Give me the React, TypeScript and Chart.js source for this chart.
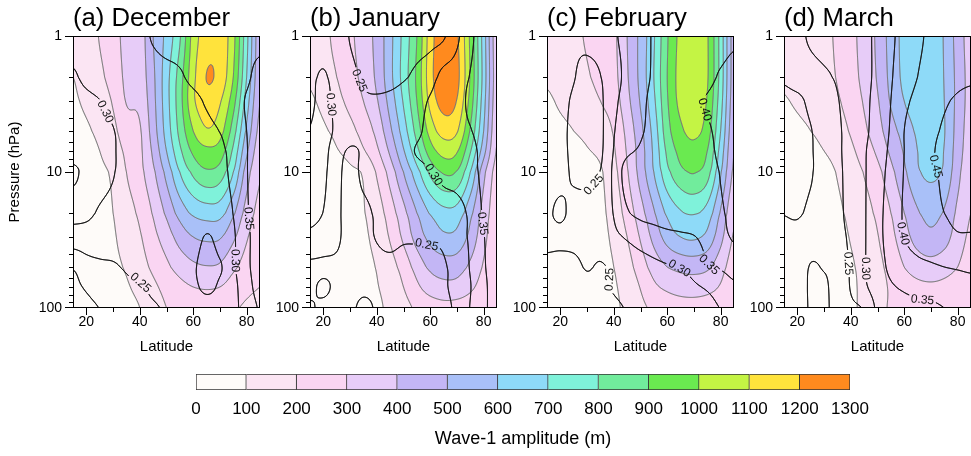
import React, { useEffect, useRef } from "react";
import { Chart, registerables } from "chart.js";

Chart.register(...registerables);

const FONT = "'Liberation Sans', Arial, Helvetica, sans-serif";
Chart.defaults.font.family = FONT;

// Grid of the fields: latitude (deg N) and pressure (hPa)
const LATS = [15, 20, 25, 30, 35, 40, 45, 50, 55, 60, 65, 70, 75, 80, 85];
const LEVELS = [1, 2, 3, 5, 7, 10, 20, 30, 50, 70, 100];

const X_TICKS = [20, 40, 60, 80];
const X_MINOR = [30, 50, 70];
const Y_TICKS = [1, 10, 100];
const Y_MINOR = [2, 3, 4, 5, 6, 7, 8, 9, 20, 30, 40, 50, 60, 70, 80, 90];

// Shading intervals for the wave-1 amplitude (m)
const BAND_EDGES = [0, 100, 200, 300, 400, 500, 600, 700, 800, 900, 1000, 1100, 1200, 1300];
const BAND_COLORS = [
  "#FEFBF9", "#FBE5F3", "#FAD5F2", "#E7CCF8", "#C3B6F5", "#A9C0F8", "#8EDAF8",
  "#7FF2DA", "#71EC9C", "#6AEA50", "#C4F444", "#FFE33C", "#FF8A1E",
];

// Line contour levels of the overlaid ratio field
const RATIO_LEVELS = [0.2, 0.25, 0.3, 0.35, 0.4, 0.45, 0.5];

const PANEL_TITLES = ["(a) December", "(b) January", "(c) February", "(d) March"];

// Wave-1 amplitude, rows = LEVELS (1 -> 100 hPa), columns = LATS
const AMP_DEC = [
  [120, 160, 205, 260, 330, 350, 500, 630, 790, 1040, 1150, 1160, 1030, 730, 430],
  [100, 135, 180, 240, 320, 345, 480, 660, 850, 1070, 1202, 1165, 1000, 700, 420],
  [90, 115, 150, 210, 305, 325, 470, 660, 860, 1080, 1160, 1110, 940, 650, 400],
  [75, 90, 120, 175, 255, 290, 450, 640, 830, 1000, 1090, 1040, 850, 580, 370],
  [70, 80, 100, 150, 220, 280, 420, 600, 780, 920, 975, 950, 780, 520, 340],
  [60, 70, 85, 115, 200, 270, 380, 530, 700, 820, 880, 850, 700, 450, 310],
  [55, 60, 75, 100, 160, 220, 310, 420, 540, 620, 650, 640, 520, 360, 270],
  [55, 60, 70, 90, 140, 190, 270, 350, 440, 500, 520, 510, 420, 310, 250],
  [50, 55, 60, 80, 110, 160, 220, 280, 340, 380, 395, 385, 320, 260, 220],
  [50, 50, 55, 70, 90, 130, 180, 230, 270, 300, 310, 300, 260, 220, 200],
  [45, 50, 50, 60, 70, 100, 150, 200, 210, 230, 240, 235, 210, 190, 180],
];

const AMP_JAN = [
  [130, 170, 230, 280, 350, 430, 570, 730, 900, 1150, 1270, 1215, 980, 650, 330],
  [110, 150, 200, 260, 330, 420, 570, 740, 920, 1160, 1280, 1230, 990, 660, 340],
  [90, 120, 170, 230, 300, 390, 540, 710, 900, 1130, 1240, 1195, 960, 640, 330],
  [70, 90, 120, 170, 240, 330, 480, 650, 840, 1040, 1140, 1110, 890, 600, 310],
  [60, 75, 95, 130, 190, 280, 420, 590, 770, 950, 1035, 1010, 810, 540, 290],
  [55, 60, 65, 85, 110, 210, 340, 500, 660, 820, 910, 890, 700, 430, 260],
  [50, 55, 60, 70, 95, 150, 250, 370, 500, 610, 670, 660, 530, 360, 240],
  [50, 50, 55, 65, 85, 130, 210, 320, 440, 530, 580, 570, 470, 330, 230],
  [45, 45, 50, 60, 75, 105, 160, 240, 340, 420, 450, 445, 380, 290, 220],
  [40, 45, 50, 55, 70, 95, 135, 200, 280, 345, 370, 365, 320, 260, 210],
  [40, 40, 45, 50, 65, 85, 120, 170, 215, 250, 270, 265, 250, 225, 200],
];

const AMP_FEB = [
  [130, 150, 180, 210, 250, 280, 400, 530, 690, 890, 1030, 1080, 1010, 760, 450],
  [110, 130, 160, 190, 230, 270, 390, 530, 700, 900, 1040, 1085, 1010, 760, 450],
  [90, 110, 130, 160, 200, 250, 370, 510, 680, 890, 1030, 1070, 990, 740, 440],
  [70, 85, 100, 120, 150, 210, 330, 470, 640, 860, 980, 1025, 950, 700, 420],
  [65, 70, 80, 95, 120, 190, 310, 450, 620, 820, 930, 965, 900, 660, 400],
  [60, 60, 65, 75, 90, 170, 290, 440, 600, 770, 870, 905, 840, 610, 380],
  [55, 55, 60, 65, 80, 140, 240, 360, 490, 620, 690, 709, 660, 490, 320],
  [50, 55, 55, 60, 75, 120, 200, 310, 430, 540, 600, 615, 570, 430, 290],
  [45, 50, 50, 55, 70, 100, 160, 250, 340, 400, 430, 440, 420, 340, 250],
  [45, 45, 50, 55, 65, 90, 135, 205, 280, 320, 345, 350, 335, 290, 220],
  [40, 40, 45, 50, 60, 85, 120, 180, 215, 240, 255, 260, 250, 230, 200],
];

const AMP_MAR = [
  [120, 140, 170, 190, 210, 270, 340, 420, 540, 630, 680, 690, 590, 460, 350],
  [110, 130, 150, 180, 205, 260, 330, 410, 530, 625, 680, 690, 595, 470, 360],
  [95, 110, 130, 160, 190, 240, 310, 390, 510, 600, 670, 685, 600, 470, 360],
  [75, 85, 100, 125, 160, 210, 280, 360, 460, 540, 620, 670, 605, 460, 350],
  [65, 70, 80, 100, 130, 180, 245, 320, 420, 510, 600, 655, 595, 450, 340],
  [60, 60, 65, 75, 105, 150, 205, 270, 370, 480, 585, 620, 580, 430, 320],
  [55, 55, 60, 65, 85, 120, 165, 220, 300, 400, 490, 530, 490, 380, 300],
  [50, 50, 55, 60, 75, 105, 145, 195, 270, 360, 440, 475, 440, 350, 280],
  [45, 45, 50, 55, 65, 90, 125, 175, 230, 300, 345, 361, 340, 300, 250],
  [45, 45, 45, 50, 60, 85, 120, 170, 210, 250, 275, 283, 275, 255, 225],
  [40, 40, 45, 45, 55, 85, 120, 180, 205, 215, 225, 230, 225, 220, 200],
];

// Ratio field drawn as black contours, same grid
const RATIO_DEC = [
  [0.28, 0.28, 0.28, 0.28, 0.28, 0.285, 0.305, 0.32, 0.32, 0.32, 0.32, 0.32, 0.32, 0.33, 0.33],
  [0.305, 0.29, 0.28, 0.28, 0.28, 0.28, 0.28, 0.285, 0.295, 0.31, 0.32, 0.32, 0.32, 0.34, 0.37],
  [0.315, 0.31, 0.301, 0.285, 0.28, 0.28, 0.28, 0.28, 0.285, 0.29, 0.305, 0.32, 0.32, 0.355, 0.37],
  [0.32, 0.32, 0.315, 0.302, 0.28, 0.27, 0.27, 0.275, 0.28, 0.285, 0.29, 0.301, 0.315, 0.35, 0.37],
  [0.32, 0.32, 0.32, 0.305, 0.28, 0.27, 0.27, 0.27, 0.275, 0.28, 0.285, 0.295, 0.31, 0.348, 0.37],
  [0.36, 0.335, 0.32, 0.303, 0.28, 0.27, 0.265, 0.265, 0.27, 0.275, 0.28, 0.29, 0.31, 0.348, 0.37],
  [0.315, 0.31, 0.295, 0.285, 0.275, 0.27, 0.265, 0.265, 0.265, 0.27, 0.275, 0.285, 0.301, 0.345, 0.37],
  [0.28, 0.28, 0.28, 0.275, 0.27, 0.265, 0.26, 0.26, 0.265, 0.28, 0.303, 0.29, 0.295, 0.34, 0.37],
  [0.205, 0.23, 0.24, 0.245, 0.255, 0.265, 0.27, 0.275, 0.285, 0.295, 0.315, 0.302, 0.295, 0.34, 0.37],
  [0.19, 0.205, 0.22, 0.23, 0.24, 0.245, 0.26, 0.27, 0.28, 0.29, 0.31, 0.295, 0.29, 0.33, 0.37],
  [0.18, 0.19, 0.201, 0.215, 0.225, 0.235, 0.245, 0.255, 0.265, 0.275, 0.28, 0.285, 0.29, 0.32, 0.355],
];

const RATIO_JAN = [
  [0.27, 0.275, 0.27, 0.248, 0.235, 0.23, 0.225, 0.225, 0.23, 0.235, 0.245, 0.29, 0.34, 0.37, 0.38],
  [0.29, 0.305, 0.28, 0.26, 0.245, 0.235, 0.235, 0.245, 0.26, 0.28, 0.315, 0.325, 0.352, 0.37, 0.38],
  [0.29, 0.315, 0.285, 0.265, 0.255, 0.255, 0.26, 0.27, 0.28, 0.305, 0.32, 0.33, 0.36, 0.37, 0.38],
  [0.302, 0.32, 0.29, 0.27, 0.26, 0.26, 0.265, 0.275, 0.29, 0.315, 0.325, 0.335, 0.348, 0.365, 0.375],
  [0.31, 0.315, 0.27, 0.245, 0.255, 0.265, 0.27, 0.285, 0.303, 0.315, 0.325, 0.33, 0.34, 0.36, 0.375],
  [0.32, 0.31, 0.265, 0.235, 0.26, 0.27, 0.275, 0.28, 0.285, 0.298, 0.31, 0.32, 0.335, 0.36, 0.375],
  [0.31, 0.299, 0.262, 0.23, 0.24, 0.255, 0.26, 0.265, 0.27, 0.275, 0.28, 0.285, 0.31, 0.355, 0.37],
  [0.29, 0.28, 0.26, 0.23, 0.24, 0.252, 0.26, 0.255, 0.255, 0.255, 0.26, 0.29, 0.305, 0.348, 0.37],
  [0.24, 0.24, 0.24, 0.23, 0.235, 0.24, 0.24, 0.235, 0.235, 0.24, 0.245, 0.27, 0.303, 0.345, 0.37],
  [0.24, 0.258, 0.24, 0.235, 0.24, 0.24, 0.235, 0.235, 0.235, 0.24, 0.245, 0.265, 0.298, 0.34, 0.37],
  [0.255, 0.24, 0.235, 0.24, 0.26, 0.245, 0.235, 0.23, 0.23, 0.235, 0.24, 0.26, 0.302, 0.34, 0.37],
];

const RATIO_FEB = [
  [0.27, 0.26, 0.255, 0.26, 0.27, 0.295, 0.31, 0.33, 0.355, 0.37, 0.38, 0.385, 0.39, 0.38, 0.39],
  [0.27, 0.265, 0.252, 0.238, 0.249, 0.285, 0.31, 0.335, 0.355, 0.37, 0.38, 0.385, 0.39, 0.405, 0.42],
  [0.265, 0.26, 0.245, 0.232, 0.242, 0.29, 0.315, 0.34, 0.36, 0.37, 0.38, 0.39, 0.403, 0.415, 0.425],
  [0.265, 0.258, 0.242, 0.23, 0.24, 0.297, 0.32, 0.345, 0.36, 0.37, 0.375, 0.385, 0.395, 0.41, 0.42],
  [0.265, 0.258, 0.243, 0.232, 0.242, 0.302, 0.34, 0.355, 0.365, 0.37, 0.375, 0.38, 0.39, 0.408, 0.42],
  [0.265, 0.26, 0.245, 0.238, 0.252, 0.31, 0.37, 0.37, 0.37, 0.37, 0.37, 0.375, 0.385, 0.402, 0.42],
  [0.255, 0.245, 0.26, 0.268, 0.28, 0.302, 0.345, 0.36, 0.365, 0.37, 0.37, 0.375, 0.38, 0.395, 0.41],
  [0.26, 0.258, 0.262, 0.268, 0.275, 0.29, 0.305, 0.32, 0.33, 0.338, 0.343, 0.348, 0.365, 0.385, 0.405],
  [0.24, 0.238, 0.24, 0.253, 0.246, 0.258, 0.27, 0.28, 0.29, 0.297, 0.302, 0.315, 0.345, 0.355, 0.37],
  [0.235, 0.235, 0.238, 0.24, 0.244, 0.253, 0.262, 0.27, 0.278, 0.284, 0.289, 0.295, 0.305, 0.32, 0.34],
  [0.232, 0.233, 0.235, 0.238, 0.24, 0.245, 0.252, 0.26, 0.267, 0.273, 0.278, 0.283, 0.29, 0.301, 0.31],
];

const RATIO_MAR = [
  [0.22, 0.24, 0.255, 0.265, 0.27, 0.28, 0.29, 0.31, 0.34, 0.37, 0.39, 0.41, 0.42, 0.43, 0.44],
  [0.245, 0.24, 0.24, 0.245, 0.255, 0.275, 0.29, 0.31, 0.345, 0.38, 0.4, 0.42, 0.43, 0.44, 0.445],
  [0.256, 0.255, 0.245, 0.24, 0.248, 0.27, 0.29, 0.315, 0.35, 0.39, 0.41, 0.43, 0.445, 0.455, 0.46],
  [0.258, 0.258, 0.251, 0.24, 0.245, 0.265, 0.29, 0.32, 0.355, 0.4, 0.42, 0.44, 0.455, 0.465, 0.47],
  [0.258, 0.258, 0.252, 0.24, 0.245, 0.265, 0.295, 0.325, 0.36, 0.4, 0.425, 0.445, 0.46, 0.47, 0.47],
  [0.257, 0.258, 0.252, 0.24, 0.245, 0.262, 0.295, 0.33, 0.365, 0.402, 0.43, 0.445, 0.455, 0.47, 0.47],
  [0.251, 0.253, 0.245, 0.24, 0.245, 0.26, 0.295, 0.335, 0.37, 0.405, 0.425, 0.44, 0.45, 0.46, 0.465],
  [0.24, 0.24, 0.235, 0.24, 0.245, 0.256, 0.295, 0.335, 0.37, 0.4, 0.415, 0.425, 0.435, 0.445, 0.445],
  [0.225, 0.23, 0.252, 0.248, 0.245, 0.253, 0.295, 0.33, 0.36, 0.38, 0.39, 0.395, 0.4, 0.405, 0.41],
  [0.22, 0.225, 0.256, 0.255, 0.24, 0.252, 0.29, 0.325, 0.345, 0.355, 0.36, 0.365, 0.37, 0.375, 0.38],
  [0.215, 0.22, 0.256, 0.256, 0.24, 0.245, 0.255, 0.31, 0.33, 0.34, 0.345, 0.345, 0.35, 0.355, 0.36],
];

// Where the contour labels sit (value, latitude, pressure)
const LABELS_DEC = [
  { value: 0.3, lat: 26, p: 3.7 },
  { value: 0.25, lat: 40.5, p: 65 },
  { value: 0.35, lat: 80.5, p: 22 },
  { value: 0.3, lat: 76.2, p: 45 },
];
const LABELS_JAN = [
  { value: 0.25, lat: 37, p: 2.0 },
  { value: 0.3, lat: 23.5, p: 3.2 },
  { value: 0.3, lat: 61.5, p: 10.5 },
  { value: 0.25, lat: 59, p: 31 },
  { value: 0.35, lat: 79.5, p: 24 },
];
const LABELS_FEB = [
  { value: 0.4, lat: 76, p: 3.4 },
  { value: 0.25, lat: 30, p: 11 },
  { value: 0.3, lat: 64.7, p: 51 },
  { value: 0.35, lat: 76.7, p: 46 },
  { value: 0.25, lat: 40.3, p: 62 },
];
const LABELS_MAR = [
  { value: 0.45, lat: 74.6, p: 8.8 },
  { value: 0.4, lat: 61.5, p: 28 },
  { value: 0.35, lat: 67, p: 86 },
  { value: 0.3, lat: 47.7, p: 51 },
  { value: 0.25, lat: 40.9, p: 47 },
];

const PANELS = [
  { title: PANEL_TITLES[0], amp: AMP_DEC, ratio: RATIO_DEC, labels: LABELS_DEC },
  { title: PANEL_TITLES[1], amp: AMP_JAN, ratio: RATIO_JAN, labels: LABELS_JAN },
  { title: PANEL_TITLES[2], amp: AMP_FEB, ratio: RATIO_FEB, labels: LABELS_FEB },
  { title: PANEL_TITLES[3], amp: AMP_MAR, ratio: RATIO_MAR, labels: LABELS_MAR },
];

// Layout of the four panels and the colour bar
const PANEL_W = 262;
const PANEL_H = 360;
const PANEL_LEFTS = [0, 237, 474, 711];
const Y_AXIS_W = 73;
const X_AXIS_H = 52;

// ---------- interpolation helpers ----------
function fracIndex(arr: number[], v: number) {
  const n = arr.length;
  if (v <= arr[0]) return 0;
  if (v >= arr[n - 1]) return n - 1;
  let k = 0;
  while (k < n - 2 && v > arr[k + 1]) k++;
  return k + (v - arr[k]) / (arr[k + 1] - arr[k]);
}

function catmull(p0: number, p1: number, p2: number, p3: number, t: number) {
  return 0.5 * (2 * p1 + (-p0 + p2) * t + (2 * p0 - 5 * p1 + 4 * p2 - p3) * t * t + (-p0 + 3 * p1 - 3 * p2 + p3) * t * t * t);
}

function fieldOn(grid: number[][], fi: Float64Array, fj: Float64Array) {
  const w = fi.length, h = fj.length;
  const nI = LATS.length, nJ = LEVELS.length;
  const out = new Float32Array(w * h);
  const col = new Float64Array(nI);
  for (let r = 0; r < h; r++) {
    const j = Math.min(Math.floor(fj[r]), nJ - 2);
    const t = fj[r] - j;
    const j0 = Math.max(j - 1, 0), j3 = Math.min(j + 2, nJ - 1);
    for (let i = 0; i < nI; i++) col[i] = catmull(grid[j0][i], grid[j][i], grid[j + 1][i], grid[j3][i], t);
    for (let c = 0; c < w; c++) {
      const i = Math.min(Math.floor(fi[c]), nI - 2);
      const s = fi[c] - i;
      out[r * w + c] = catmull(col[Math.max(i - 1, 0)], col[i], col[i + 1], col[Math.min(i + 2, nI - 1)], s);
    }
  }
  return out;
}

// marching squares; returns flat list of segments in local pixel coordinates
function march(F: Float32Array, w: number, h: number, lv: number) {
  const out: number[] = [];
  for (let r = 0; r < h - 1; r++) {
    for (let c = 0; c < w - 1; c++) {
      const a = F[r * w + c], b = F[r * w + c + 1];
      const d = F[(r + 1) * w + c], e = F[(r + 1) * w + c + 1];
      let idx = 0;
      if (a > lv) idx |= 8;
      if (b > lv) idx |= 4;
      if (e > lv) idx |= 2;
      if (d > lv) idx |= 1;
      if (idx === 0 || idx === 15) continue;
      const x = c + 0.5, y = r + 0.5;
      const P = (edge: number) => {
        if (edge === 0) out.push(x + (lv - a) / (b - a), y);
        else if (edge === 1) out.push(x + 1, y + (lv - b) / (e - b));
        else if (edge === 2) out.push(x + (lv - d) / (e - d), y + 1);
        else out.push(x, y + (lv - a) / (d - a));
      };
      const seg = (p: number, q: number) => { P(p); P(q); };
      const center = (a + b + d + e) / 4;
      switch (idx) {
        case 1: case 14: seg(3, 2); break;
        case 2: case 13: seg(2, 1); break;
        case 3: case 12: seg(3, 1); break;
        case 4: case 11: seg(0, 1); break;
        case 6: case 9: seg(0, 2); break;
        case 7: case 8: seg(3, 0); break;
        case 5:
          if (center > lv) { seg(3, 0); seg(2, 1); } else { seg(0, 1); seg(3, 2); }
          break;
        case 10:
          if (center > lv) { seg(0, 1); seg(3, 2); } else { seg(3, 0); seg(2, 1); }
          break;
      }
    }
  }
  return out;
}

function hexToRgb(hex: string) {
  const n = parseInt(hex.slice(1), 16);
  return [(n >> 16) & 255, (n >> 8) & 255, n & 255];
}

function strokeSegments(ctx: CanvasRenderingContext2D, segs: number[], x0: number, y0: number) {
  ctx.beginPath();
  for (let k = 0; k < segs.length; k += 4) {
    ctx.moveTo(x0 + segs[k], y0 + segs[k + 1]);
    ctx.lineTo(x0 + segs[k + 2], y0 + segs[k + 3]);
  }
  ctx.stroke();
}

function contourPlugin(amp: number[][], ratio: number[][], labels: { value: number; lat: number; p: number }[]) {
  return {
    id: "contourField",
    beforeDatasetsDraw(chart: any) {
      const { ctx, chartArea: ca, scales } = chart;
      const xs = scales.x, ys = scales.y;
      const x0 = Math.round(ca.left), y0 = Math.round(ca.top);
      const w = Math.round(ca.right) - x0, h = Math.round(ca.bottom) - y0;
      const logL = LEVELS.map((v) => Math.log10(v));
      const fi = new Float64Array(w), fj = new Float64Array(h);
      for (let c = 0; c < w; c++) fi[c] = fracIndex(LATS, xs.getValueForPixel(x0 + c + 0.5));
      for (let r = 0; r < h; r++) fj[r] = fracIndex(logL, Math.log10(ys.getValueForPixel(y0 + r + 0.5)));
      const A = fieldOn(amp, fi, fj);
      const R = fieldOn(ratio, fi, fj);

      // shaded bands
      const off = document.createElement("canvas");
      off.width = w;
      off.height = h;
      const octx = off.getContext("2d")!;
      const img = octx.createImageData(w, h);
      const rgb = BAND_COLORS.map(hexToRgb);
      for (let k = 0; k < w * h; k++) {
        const v = A[k];
        let band = 0;
        while (band < BAND_COLORS.length - 1 && v >= BAND_EDGES[band + 1]) band++;
        const col = rgb[band];
        img.data[k * 4] = col[0];
        img.data[k * 4 + 1] = col[1];
        img.data[k * 4 + 2] = col[2];
        img.data[k * 4 + 3] = 255;
      }
      octx.putImageData(img, 0, 0);

      ctx.save();
      ctx.beginPath();
      ctx.rect(x0, y0, w, h);
      ctx.clip();
      ctx.drawImage(off, x0, y0);

      // grey band outlines
      ctx.lineCap = "round";
      ctx.strokeStyle = "rgba(120,120,120,0.8)";
      ctx.lineWidth = 0.9;
      for (let k = 1; k < BAND_EDGES.length - 1; k++) {
        strokeSegments(ctx, march(A, w, h, BAND_EDGES[k]), x0, y0);
      }

      // ratio contours and their labels
      const ratioSegs = new Map<number, number[]>();
      RATIO_LEVELS.forEach((lv) => ratioSegs.set(lv, march(R, w, h, lv)));
      ctx.font = `12px ${FONT}`;
      const placed: { x: number; y: number; ang: number; text: string; tw: number }[] = [];
      labels.forEach((lb) => {
        const ax = xs.getPixelForValue(lb.lat) - x0;
        const ay = ys.getPixelForValue(lb.p) - y0;
        let key = RATIO_LEVELS[0];
        RATIO_LEVELS.forEach((lv) => { if (Math.abs(lv - lb.value) < Math.abs(key - lb.value)) key = lv; });
        const segs = ratioSegs.get(key) || [];
        let best = -1, bd = 1e9;
        for (let k = 0; k < segs.length; k += 2) {
          const dd = (segs[k] - ax) ** 2 + (segs[k + 1] - ay) ** 2;
          if (dd < bd) { bd = dd; best = k; }
        }
        let px = ax, py = ay;
        if (best >= 0 && bd < 40 * 40) { px = segs[best]; py = segs[best + 1]; }
        const c = Math.max(3, Math.min(w - 4, Math.round(px)));
        const r = Math.max(3, Math.min(h - 4, Math.round(py)));
        const gx = R[r * w + c + 3] - R[r * w + c - 3];
        const gy = R[(r + 3) * w + c] - R[(r - 3) * w + c];
        let ang = Math.atan2(gx, -gy);
        if (ang > Math.PI / 2) ang -= Math.PI;
        if (ang < -Math.PI / 2) ang += Math.PI;
        const text = lb.value.toFixed(2);
        placed.push({ x: x0 + px, y: y0 + py, ang, text, tw: ctx.measureText(text).width });
      });

      ctx.save();
      ctx.beginPath();
      ctx.rect(x0, y0, w, h);
      placed.forEach((pl) => {
        const cs = Math.cos(pl.ang), sn = Math.sin(pl.ang);
        const hw = pl.tw / 2 + 2, hh = 6;
        const pts = [[-hw, -hh], [hw, -hh], [hw, hh], [-hw, hh]].map(([u, v]) => [pl.x + u * cs - v * sn, pl.y + u * sn + v * cs]);
        ctx.moveTo(pts[0][0], pts[0][1]);
        for (let k = 1; k < 4; k++) ctx.lineTo(pts[k][0], pts[k][1]);
        ctx.closePath();
      });
      ctx.clip("evenodd");
      ctx.strokeStyle = "#1a1a1a";
      ctx.lineWidth = 1;
      RATIO_LEVELS.forEach((lv) => strokeSegments(ctx, ratioSegs.get(lv)!, x0, y0));
      ctx.restore();

      ctx.fillStyle = "#111";
      ctx.textAlign = "center";
      ctx.textBaseline = "middle";
      placed.forEach((pl) => {
        ctx.save();
        ctx.translate(pl.x, pl.y);
        ctx.rotate(pl.ang);
        ctx.fillText(pl.text, 0, 0.5);
        ctx.restore();
      });
      ctx.restore();
    },
    afterDraw(chart: any) {
      const { ctx, chartArea: ca, scales } = chart;
      const xs = scales.x, ys = scales.y;
      const x0 = Math.round(ca.left), y0 = Math.round(ca.top);
      const x1 = Math.round(ca.right), y1 = Math.round(ca.bottom);
      ctx.save();
      ctx.strokeStyle = "#000";
      ctx.lineWidth = 1;
      ctx.strokeRect(x0 + 0.5, y0 + 0.5, x1 - x0 - 1, y1 - y0 - 1);
      ctx.beginPath();
      Y_TICKS.forEach((v) => {
        const y = Math.round(ys.getPixelForValue(v)) + (v === 100 ? -0.5 : 0.5);
        ctx.moveTo(x0 - 8, y);
        ctx.lineTo(x0 + 0.5, y);
      });
      Y_MINOR.forEach((v) => {
        const y = Math.round(ys.getPixelForValue(v)) + 0.5;
        ctx.moveTo(x0 - 4, y);
        ctx.lineTo(x0 + 0.5, y);
      });
      X_TICKS.forEach((v) => {
        const x = Math.round(xs.getPixelForValue(v)) + 0.5;
        ctx.moveTo(x, y1 - 0.5);
        ctx.lineTo(x, y1 + 7);
      });
      X_MINOR.forEach((v) => {
        const x = Math.round(xs.getPixelForValue(v)) + 0.5;
        ctx.moveTo(x, y1 - 0.5);
        ctx.lineTo(x, y1 + 4);
      });
      ctx.stroke();
      ctx.restore();
    },
  };
}

function Panel({ index }: { index: number }) {
  const ref = useRef<HTMLCanvasElement>(null);
  useEffect(() => {
    const spec = PANELS[index];
    const chart = new Chart(ref.current!, {
      type: "scatter",
      data: { datasets: [] },
      options: {
        animation: false,
        responsive: false,
        devicePixelRatio: 1,
        events: [],
        layout: { padding: { left: 0, right: PANEL_W - Y_AXIS_W - 187, top: 0, bottom: 0 } },
        plugins: {
          legend: { display: false },
          tooltip: { enabled: false },
          title: {
            display: true,
            text: spec.title,
            align: "start",
            fullSize: false,
            color: "#000",
            font: { family: FONT, size: 25.7, weight: "normal", lineHeight: 1.1 },
            padding: { top: 4.5, bottom: 3.2 },
          },
        },
        scales: {
          x: {
            type: "linear",
            min: 15,
            max: 85,
            grid: { display: false, drawTicks: false },
            border: { display: false },
            ticks: { color: "#000", font: { family: FONT, size: 14 }, padding: 6, autoSkip: false, maxRotation: 0 },
            afterBuildTicks: (s: any) => { s.ticks = X_TICKS.map((v) => ({ value: v })); },
            afterFit: (s: any) => { s.height = X_AXIS_H; },
            title: { display: true, text: "Latitude", color: "#000", font: { family: FONT, size: 15 }, padding: { top: 0, bottom: 4 } },
          },
          y: {
            type: "logarithmic",
            reverse: true,
            min: 1,
            max: 100,
            grid: { display: false, drawTicks: false },
            border: { display: false },
            ticks: { color: "#000", font: { family: FONT, size: 14 }, padding: 11, autoSkip: false, callback: (v: any) => String(v) },
            afterBuildTicks: (s: any) => { s.ticks = Y_TICKS.map((v) => ({ value: v })); },
            afterFit: (s: any) => { s.width = Y_AXIS_W; },
            title: { display: index === 0, text: "Pressure (hPa)", color: "#000", font: { family: FONT, size: 15 }, padding: { top: 6, bottom: 0 } },
          },
        },
      },
      plugins: [contourPlugin(spec.amp, spec.ratio, spec.labels)],
    } as any);
    return () => chart.destroy();
  }, [index]);
  return (
    <canvas
      ref={ref}
      width={PANEL_W}
      height={PANEL_H}
      style={{ position: "absolute", left: PANEL_LEFTS[index], top: 0, width: PANEL_W, height: PANEL_H }}
    />
  );
}

function ColorBar() {
  const ref = useRef<HTMLCanvasElement>(null);
  useEffect(() => {
    const n = BAND_COLORS.length;
    const chart = new Chart(ref.current!, {
      type: "bar",
      data: {
        labels: [""],
        datasets: BAND_COLORS.map((c, k) => ({
          data: [BAND_EDGES[k + 1] - BAND_EDGES[k]],
          backgroundColor: c,
          borderColor: "#333",
          borderWidth: { left: k === 0 ? 1 : 0, right: 1, top: 1, bottom: 1 },
          borderSkipped: false,
          barPercentage: 1,
          categoryPercentage: 1,
        })),
      },
      options: {
        indexAxis: "y",
        animation: false,
        responsive: false,
        devicePixelRatio: 1,
        events: [],
        layout: { padding: { left: 26, right: 30, top: 14, bottom: 0 } },
        plugins: { legend: { display: false }, tooltip: { enabled: false } },
        scales: {
          x: {
            stacked: true,
            min: BAND_EDGES[0],
            max: BAND_EDGES[n],
            grid: { display: false, drawTicks: false },
            border: { display: false },
            afterBuildTicks: (s: any) => { s.ticks = BAND_EDGES.map((v) => ({ value: v })); },
            ticks: { color: "#000", font: { family: FONT, size: 17 }, padding: 9, autoSkip: false, maxRotation: 0, callback: (v: any) => String(v) },
            afterFit: (s: any) => { s.height = 66; },
            title: { display: true, text: "Wave-1 amplitude (m)", color: "#000", font: { family: FONT, size: 18 }, padding: { top: 0, bottom: 6 } },
          },
          y: { stacked: true, display: false },
        },
      },
    } as any);
    return () => chart.destroy();
  }, []);
  return <canvas ref={ref} width={710} height={96} style={{ position: "absolute", left: 170, top: 360, width: 710, height: 96 }} />;
}

export default function App() {
  return (
    <div style={{ position: "absolute", left: 0, top: 0, width: 971, height: 456, overflow: "hidden", background: "#fff" }}>
      {PANELS.map((_, i) => (
        <Panel key={i} index={i} />
      ))}
      <ColorBar />
    </div>
  );
}
